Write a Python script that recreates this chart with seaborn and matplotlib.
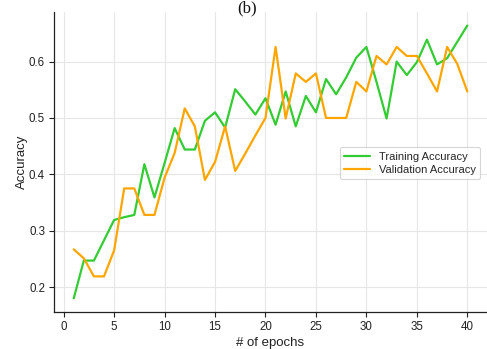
import numpy as np
import pandas as pd
import matplotlib
matplotlib.use("Agg")
import matplotlib.pyplot as plt
import seaborn as sns

epochs = list(range(1, 41))
train_acc = [0.180, 0.247, 0.247, 0.283, 0.319, 0.324, 0.328, 0.418, 0.359, 0.420,
             0.482, 0.444, 0.444, 0.495, 0.510, 0.483, 0.551, 0.529, 0.506, 0.535,
             0.488, 0.547, 0.485, 0.539, 0.510, 0.569, 0.542, 0.572, 0.607, 0.626,
             0.564, 0.499, 0.600, 0.576, 0.599, 0.639, 0.595, 0.606, 0.635, 0.664]
val_acc = [0.267, 0.251, 0.219, 0.219, 0.265, 0.375, 0.375, 0.328, 0.328, 0.394,
           0.438, 0.517, 0.485, 0.390, 0.422, 0.485, 0.406, 0.437, 0.469, 0.500,
           0.626, 0.499, 0.579, 0.564, 0.579, 0.500, 0.500, 0.500, 0.564, 0.547,
           0.610, 0.595, 0.626, 0.610, 0.610, 0.579, 0.547, 0.626, 0.596, 0.547]
series_names = ["Training Accuracy", "Validation Accuracy"]
colors = ["#33cc33", "#ffa500"]

df = pd.DataFrame({
    "epoch": epochs * 2,
    "acc": train_acc + val_acc,
    "series": [series_names[0]] * len(epochs) + [series_names[1]] * len(epochs),
})

sns.set_theme(style="whitegrid")
plt.rcParams["font.family"] = ["Liberation Sans", "DejaVu Sans"]

fig = plt.figure(figsize=(4.87, 3.49), dpi=100)
ax = fig.add_axes([0.111, 0.106, 0.889, 0.860])

sns.lineplot(data=df, x="epoch", y="acc", hue="series", palette=colors,
             linewidth=1.6, ax=ax)

ax.grid(True, color="#e6e6e6", linewidth=0.8)
for s in ["top", "right"]:
    ax.spines[s].set_visible(False)
for s in ["left", "bottom"]:
    ax.spines[s].set_color("#222222")
    ax.spines[s].set_linewidth(0.9)
ax.tick_params(axis="both", which="both", direction="out", length=3.5,
               width=0.8, color="#222222", labelsize=8.3, pad=3,
               bottom=True, left=True, labelcolor="#222222")
ax.set_xticks([0, 5, 10, 15, 20, 25, 30, 35, 40])
ax.set_yticks([0.2, 0.3, 0.4, 0.5, 0.6])
ax.set_xlabel("# of epochs", fontsize=9.5, color="#222222", labelpad=3)
ax.set_ylabel("Accuracy", fontsize=9.5, color="#222222", labelpad=1)

leg = ax.legend(loc="upper right", bbox_to_anchor=(0.997, 0.568), fontsize=8,
                frameon=True, fancybox=True, edgecolor="#cccccc",
                handlelength=2.3, borderpad=0.4, labelspacing=0.3)
leg.get_frame().set_linewidth(0.8)

fig.text(0.507, 0.999, "(b)", ha="center", va="top", fontsize=12,
         family=["Liberation Serif", "DejaVu Serif"], color="#111111")

fig.savefig("out.png", dpi=100)
